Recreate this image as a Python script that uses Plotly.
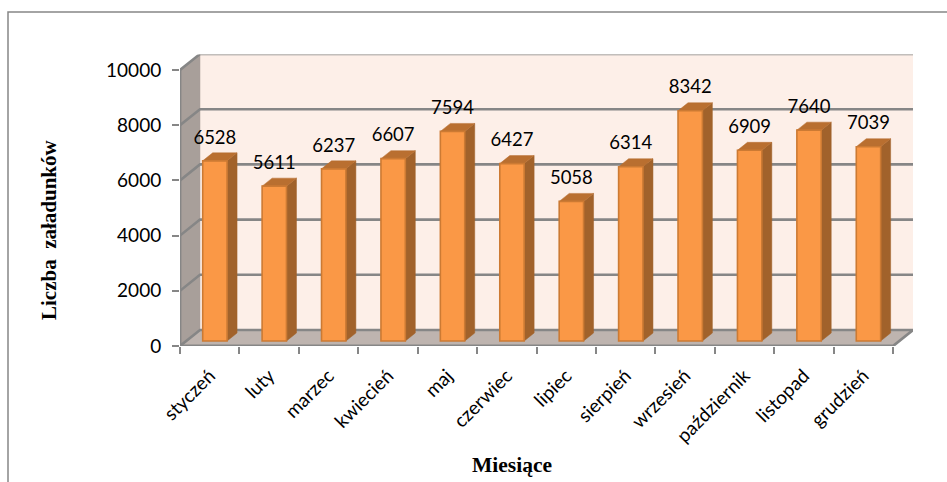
import plotly.graph_objects as go

months = ["styczeń", "luty", "marzec", "kwiecień", "maj", "czerwiec", "lipiec",
          "sierpień", "wrzesień", "październik", "listopad", "grudzień"]
values = [6528, 5611, 6237, 6607, 7594, 6427, 5058, 6314, 8342, 6909, 7640, 7039]
y_ticks = [0, 2000, 4000, 6000, 8000, 10000]

W, H = 947, 482
X0, X1 = 180, 913      # plot box px
Y0, Y1 = 346, 54.5
PX_X = (893 - 180) / 12
PX_Y = (346 - 70) / 10000
DX = 20 / PX_X         # wall depth in x units
DY = 16 / PX_Y
N = len(months)
XMAX = N + DX
YMAX = (Y0 - Y1) / PX_Y

BAR_W = 0.41
BAR_LEFT = -0.118      # bar left edge relative to category centre
BASE = 181             # bars stand slightly in front of the floor's front edge
BDX, BDY = 10 / PX_X, 8 / PX_Y

GRID = "#868686"
WALL = "#FDEFE8"
LEFTWALL = "#A89F9A"
FLOOR = "#BEB4AF"
FRONT = "#FA9846"
EDGE = "#CC7A33"
SIDE = "#A1622B"
TOP = "#B96F30"


def poly(xs, ys, color):
    return go.Scatter(x=xs, y=ys, mode="lines", fill="toself", fillcolor=color,
                      line=dict(color=color, width=0.5), hoverinfo="skip",
                      showlegend=False, xaxis="x", yaxis="y", cliponaxis=False)


def seg(xs, ys, width=2.6):
    return go.Scatter(x=xs, y=ys, mode="lines", line=dict(color=GRID, width=width),
                      hoverinfo="skip", showlegend=False, xaxis="x", yaxis="y",
                      cliponaxis=False)


fig = go.Figure()
top = y_ticks[-1]
fig.add_trace(poly([DX, XMAX, XMAX, DX, DX], [DY, DY, top + DY, top + DY, DY], WALL))
fig.add_trace(poly([0, DX, DX, 0, 0], [0, DY, top + DY, top, 0], LEFTWALL))
fig.add_trace(poly([0, N, XMAX, DX, 0], [0, 0, DY, DY, 0], FLOOR))
for v in y_ticks:
    fig.add_trace(seg([0, DX, XMAX], [v, v + DY, v + DY]))
fig.add_trace(seg([0, 0], [0, top], 2.8))
fig.add_trace(seg([0, N, XMAX], [0, 0, DY], 2.8))

# side and top faces of each bar, derived from the data
for i, v in enumerate(values):
    left = i + 0.5 + BAR_LEFT
    right = left + BAR_W
    t = v + BASE
    fig.add_trace(poly([right, right + BDX, right + BDX, right, right],
                       [BASE, BASE + BDY, t + BDY, t, BASE], SIDE))
    fig.add_trace(poly([left, right, right + BDX, left + BDX, left],
                       [t, t, t + BDY, t + BDY, t], TOP))

# front faces on the category axis
fig.add_trace(go.Bar(x=months, y=values, base=BASE, offset=BAR_LEFT, width=BAR_W,
                     marker=dict(color=FRONT, line=dict(color=EDGE, width=1.6)),
                     xaxis="x2", yaxis="y", showlegend=False))

# value labels
fig.add_trace(go.Scatter(x=[i + 0.5 + BAR_LEFT + BAR_W / 2 for i in range(N)],
                         y=[v + BASE + BDY + 170 for v in values],
                         mode="text", text=[str(v) for v in values],
                         textposition="top center",
                         textfont=dict(family="Lato", size=18.5, color="#000000"),
                         xaxis="x3", yaxis="y", showlegend=False, hoverinfo="skip",
                         cliponaxis=False))

domx = [X0 / W, X1 / W]
fig.update_layout(
    width=W, height=H, margin=dict(l=0, r=0, t=0, b=0, autoexpand=False),
    paper_bgcolor="#FFFFFF", plot_bgcolor="rgba(0,0,0,0)", showlegend=False,
    xaxis=dict(domain=domx, range=[0, XMAX], visible=False, fixedrange=True),
    xaxis2=dict(domain=domx, overlaying="x", anchor="y", type="category",
                categoryorder="array", categoryarray=months,
                range=[-0.5, XMAX - 0.5], tickson="boundaries", ticks="outside",
                ticklen=7, tickwidth=2, tickcolor=GRID, tickangle=-45,
                ticklabelstandoff=14,
                showgrid=False, zeroline=False, showline=False,
                tickfont=dict(family="Lato", size=19, color="#000000")),
    xaxis3=dict(domain=domx, overlaying="x", anchor="y", range=[0, XMAX], visible=False),
    yaxis=dict(domain=[(H - Y0) / H, (H - Y1) / H], range=[0, YMAX], tickmode="array",
               tickvals=y_ticks, ticktext=[str(v) for v in y_ticks], ticks="outside",
               ticklen=7, tickwidth=2, tickcolor=GRID, ticklabelstandoff=7,
               showgrid=False, zeroline=False, showline=False, anchor="x",
               tickfont=dict(family="Lato", size=19, color="#000000")),
    shapes=[dict(type="rect", xref="paper", yref="paper",
                 x0=8 / W, x1=1.02, y0=-0.02, y1=1 - 12 / H,
                 line=dict(color="#868686", width=1.5), fillcolor="rgba(0,0,0,0)", layer="below")],
    annotations=[
        dict(text="<b>Liczba\u00a0\u00a0załadunków</b>", xref="paper", yref="paper",
             x=49 / W, y=1 - 230 / H, textangle=-90, showarrow=False,
             xanchor="center", yanchor="middle",
             font=dict(family="Liberation Serif", size=21, color="#000000")),
        dict(text="<b>Miesiące</b>", xref="paper", yref="paper",
             x=512 / W, y=1 - 465 / H, showarrow=False, xanchor="center", yanchor="middle",
             font=dict(family="Liberation Serif", size=21.5, color="#000000")),
    ],
)
fig.write_html("out.html", post_script="document.body.style.margin='0';",
               config=dict(displayModeBar=False))
